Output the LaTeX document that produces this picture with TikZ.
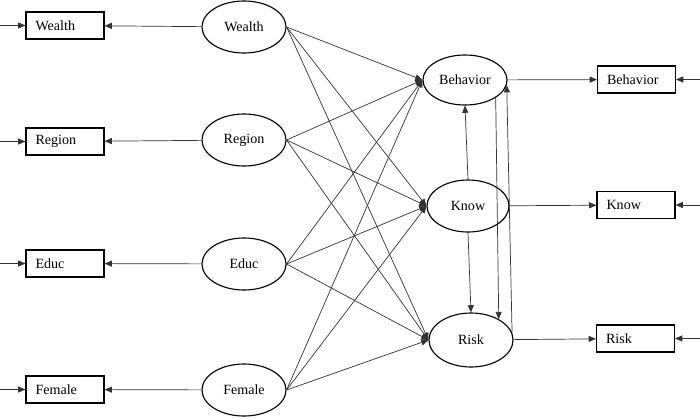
\documentclass[tikz,border=0pt]{standalone}
\usepackage{fontspec}
\setmainfont{Liberation Serif}
\usetikzlibrary{shapes.geometric,arrows.meta,positioning}

\begin{document}
\begin{tikzpicture}[x=0.025cm, y=-0.025cm,
    latent/.style={ellipse, draw, line width=0.8pt, minimum width=2.1cm,
        minimum height=1.3cm, inner sep=0pt, font=\normalsize},
    obsbox/.style={rectangle, draw, line width=0.8pt, minimum height=0.675cm,
        inner xsep=0.24cm, text width=1.47cm, align=left, font=\normalsize},
    arr/.style={-{Triangle[length=1.8mm, width=1.5mm]}, line width=0.5pt, black!80}
]
    \useasboundingbox (0,0) rectangle (700,417);

    % exogenous side
    \node[obsbox] (bw) at (65,25.5) {Wealth};
    \node[obsbox] (br) at (65,141.5) {Region};
    \node[obsbox] (be) at (65,263.5) {Educ};
    \node[obsbox] (bf) at (65,389.5) {Female};
    \node[latent] (lw) at (244,27) {Wealth};
    \node[latent] (lr) at (244,140) {Region};
    \node[latent] (le) at (244,264) {Educ};
    \node[latent] (lf) at (244,390) {Female};

    % endogenous side
    \node[latent, minimum height=1.25cm] (lb) at (465,80) {Behavior};
    \node[latent, minimum width=2.05cm] (lk) at (468,206) {Know};
    \node[latent, minimum height=1.35cm] (lrk) at (471,340) {Risk};
    \node[obsbox] (bb) at (636.5,79.5) {Behavior};
    \node[obsbox] (bk) at (636,205) {Know};
    \node[obsbox] (brk) at (635.5,338.5) {Risk};

    % free ends
    \coordinate (iw) at (0,25.5);
    \coordinate (ir) at (0,141.5);
    \coordinate (ie) at (0,263.5);
    \coordinate (if) at (0,389.5);
    \coordinate (ib) at (700,79.5);
    \coordinate (ik) at (700,205);
    \coordinate (irk) at (700,338.5);

    \draw[arr] (iw) -- (bw);
    \draw[arr] (ir) -- (br);
    \draw[arr] (ie) -- (be);
    \draw[arr] (if) -- (bf);
    \draw[arr] (ib) -- (bb);
    \draw[arr] (ik) -- (bk);
    \draw[arr] (irk) -- (brk);

    \draw[arr] (lw) -- (bw);
    \draw[arr] (lr) -- (br);
    \draw[arr] (le) -- (be);
    \draw[arr] (lf) -- (bf);
    \draw[arr] (lb) -- (bb);
    \draw[arr] (lk) -- (bk);
    \draw[arr] (lrk) -- (brk);

    % paths to the three outcomes
    \draw[arr] (lw.east) -- (lb.west);
    \draw[arr] (lw.east) -- (lk.west);
    \draw[arr] (lw.east) -- (lrk.west);
    \draw[arr] (lr.east) -- (lb.west);
    \draw[arr] (lr.east) -- (lk.west);
    \draw[arr] (lr.east) -- (lrk.west);
    \draw[arr] (le.east) -- (lb.west);
    \draw[arr] (le.east) -- (lk.west);
    \draw[arr] (le.east) -- (lrk.west);
    \draw[arr] (lf.east) -- (lb.west);
    \draw[arr] (lf.east) -- (lk.west);
    \draw[arr] (lf.east) -- (lrk.west);

    % among outcomes
    \draw[arr] (lk.north) -- (lb.south);
    \draw[arr] (lk.south) -- (lrk.north);
    \draw[arr] (lb.-30) -- (lrk.37);
    \draw[arr] (lrk.10) -- (lb.-7);
\end{tikzpicture}
\end{document}
